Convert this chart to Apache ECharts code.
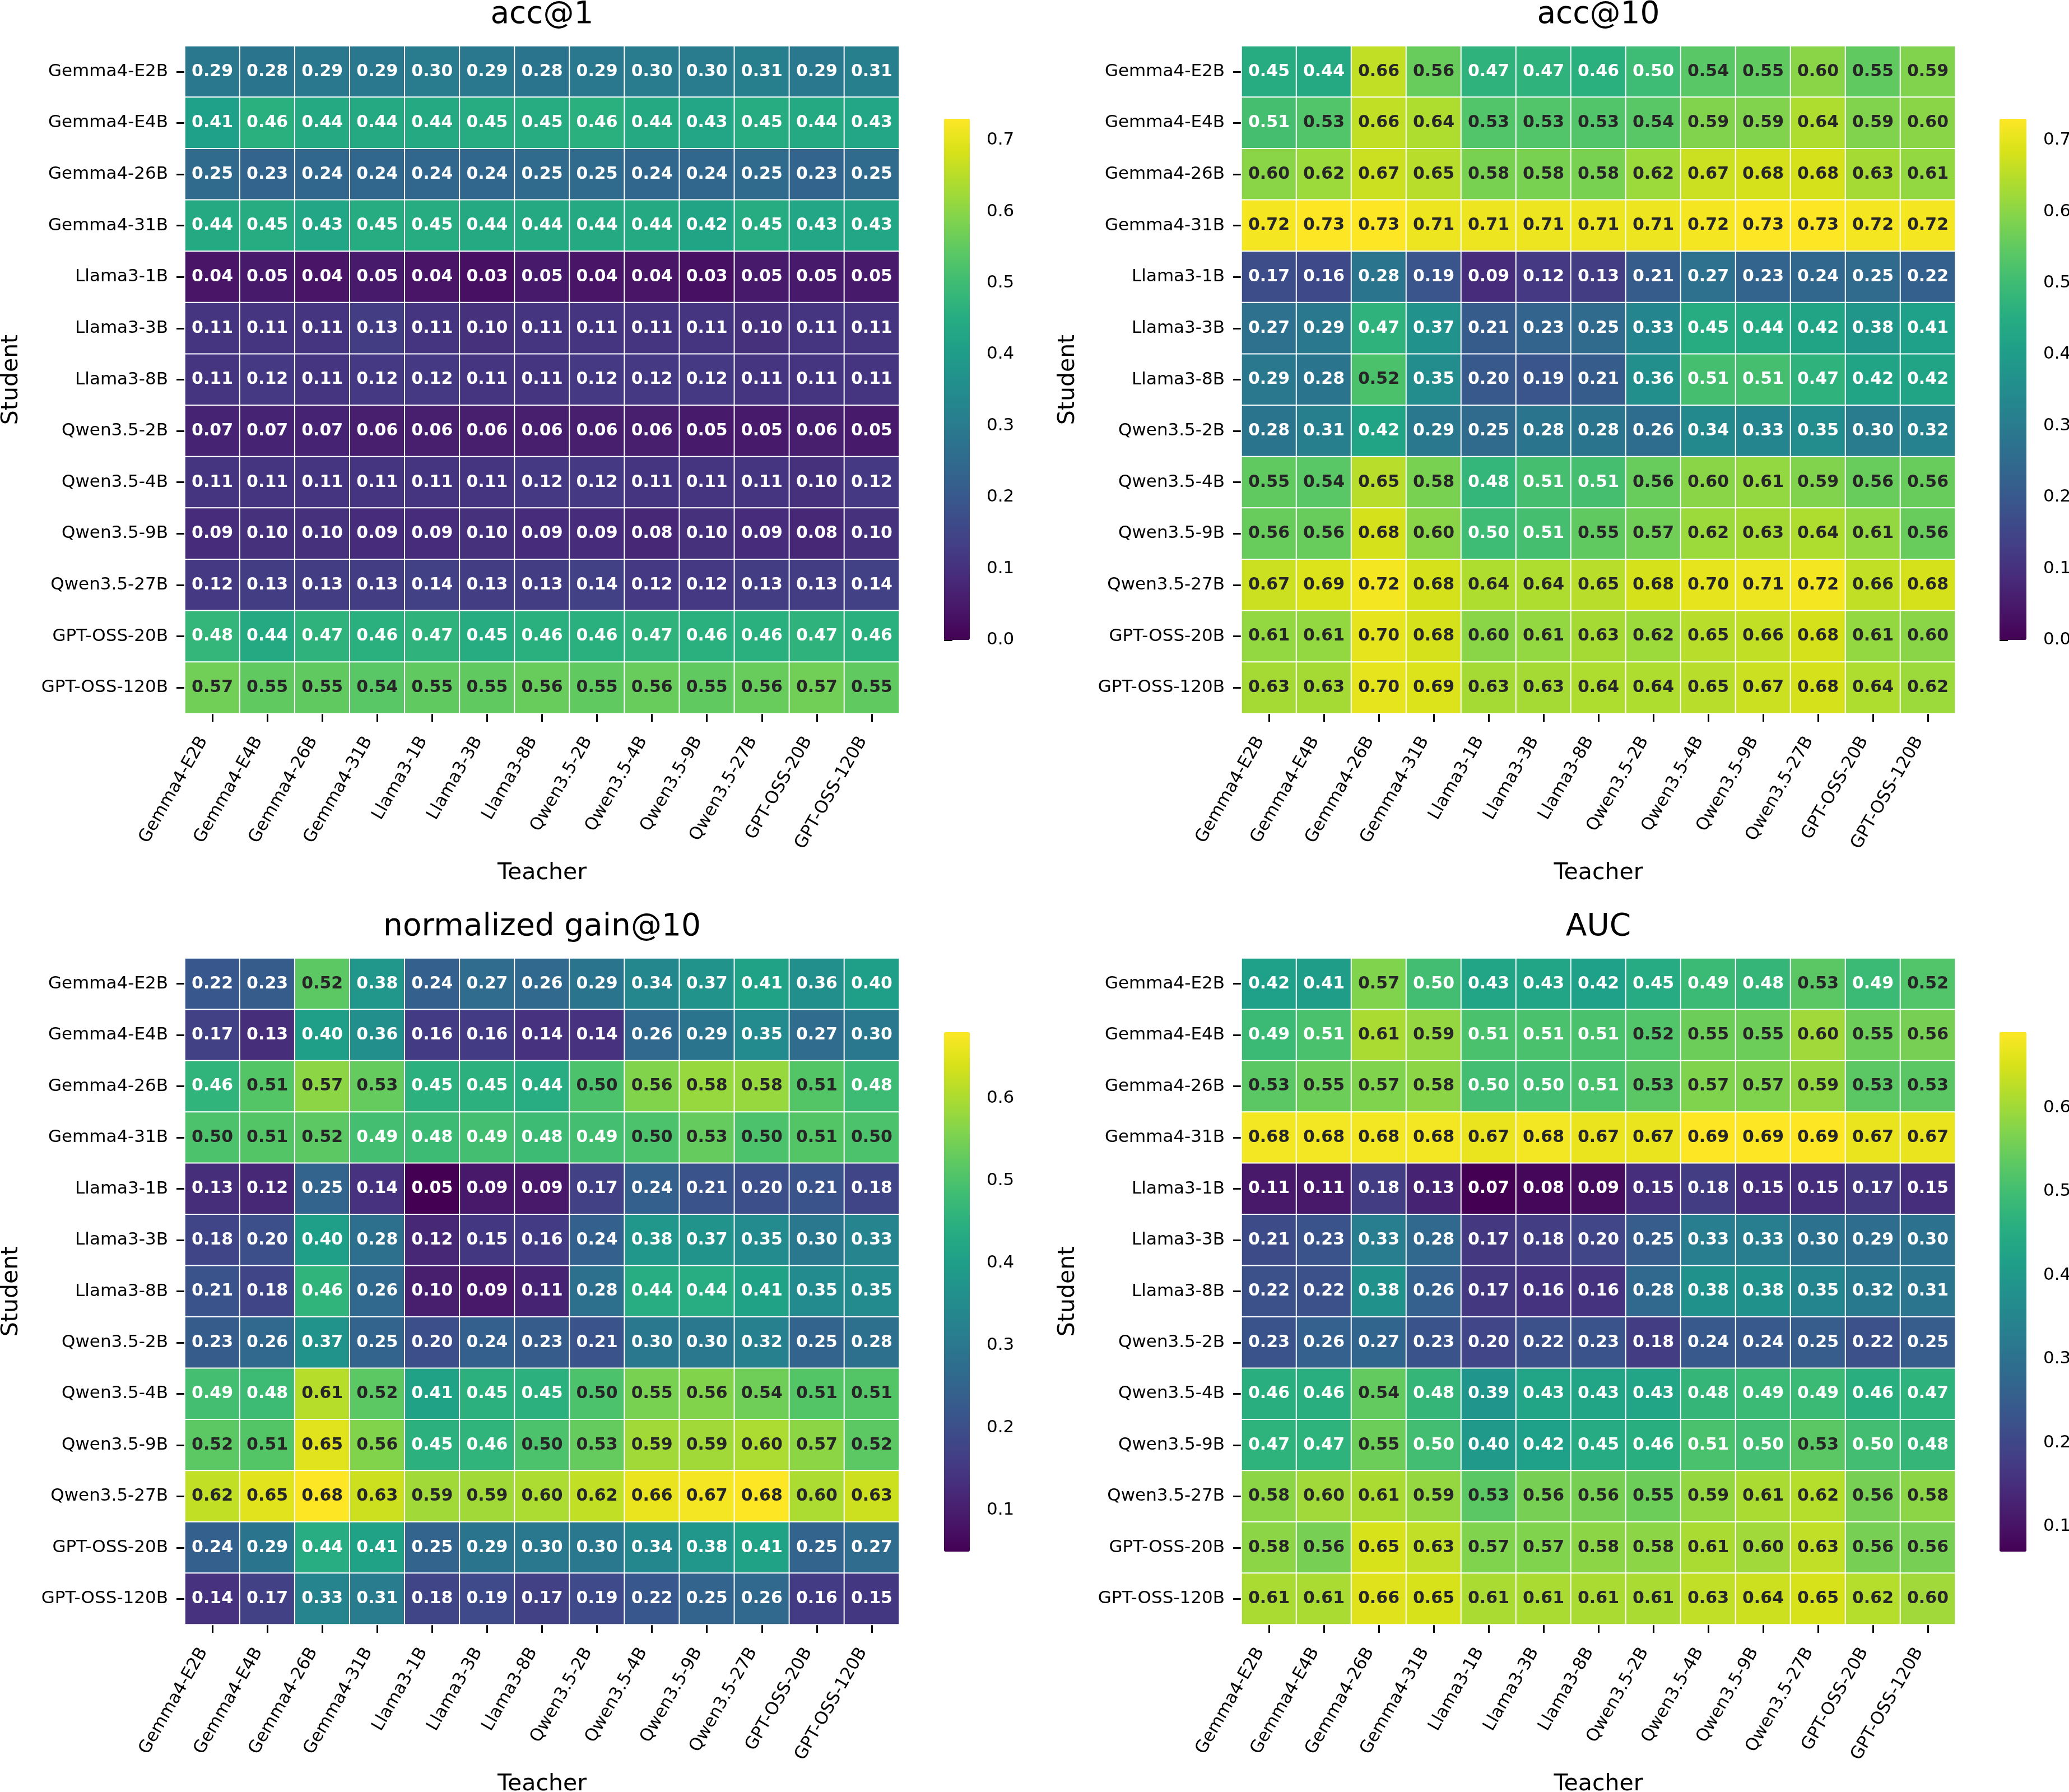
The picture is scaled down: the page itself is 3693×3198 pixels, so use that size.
<!DOCTYPE html>
<html>
<head>
<meta charset="utf-8">
<style>
html, body { margin: 0; padding: 0; background: #fff; }
#chart { width: 3693px; height: 3198px; }
</style>
<script src="https://cdn.jsdelivr.net/npm/echarts@6/dist/echarts.min.js"></script>
</head>
<body>
<div id="chart"></div>
<script>
// teacher / student model names (same order on both axes)
var models = ['Gemma4-E2B', 'Gemma4-E4B', 'Gemma4-26B', 'Gemma4-31B', 'Llama3-1B', 'Llama3-3B', 'Llama3-8B',
  'Qwen3.5-2B', 'Qwen3.5-4B', 'Qwen3.5-9B', 'Qwen3.5-27B', 'GPT-OSS-20B', 'GPT-OSS-120B'];

// rows = student, columns = teacher
var acc1 = [
  [0.29, 0.28, 0.29, 0.29, 0.30, 0.29, 0.28, 0.29, 0.30, 0.30, 0.31, 0.29, 0.31],
  [0.41, 0.46, 0.44, 0.44, 0.44, 0.45, 0.45, 0.46, 0.44, 0.43, 0.45, 0.44, 0.43],
  [0.25, 0.23, 0.24, 0.24, 0.24, 0.24, 0.25, 0.25, 0.24, 0.24, 0.25, 0.23, 0.25],
  [0.44, 0.45, 0.43, 0.45, 0.45, 0.44, 0.44, 0.44, 0.44, 0.42, 0.45, 0.43, 0.43],
  [0.04, 0.05, 0.04, 0.05, 0.04, 0.03, 0.05, 0.04, 0.04, 0.03, 0.05, 0.05, 0.05],
  [0.11, 0.11, 0.11, 0.13, 0.11, 0.10, 0.11, 0.11, 0.11, 0.11, 0.10, 0.11, 0.11],
  [0.11, 0.12, 0.11, 0.12, 0.12, 0.11, 0.11, 0.12, 0.12, 0.12, 0.11, 0.11, 0.11],
  [0.07, 0.07, 0.07, 0.06, 0.06, 0.06, 0.06, 0.06, 0.06, 0.05, 0.05, 0.06, 0.05],
  [0.11, 0.11, 0.11, 0.11, 0.11, 0.11, 0.12, 0.12, 0.11, 0.11, 0.11, 0.10, 0.12],
  [0.09, 0.10, 0.10, 0.09, 0.09, 0.10, 0.09, 0.09, 0.08, 0.10, 0.09, 0.08, 0.10],
  [0.12, 0.13, 0.13, 0.13, 0.14, 0.13, 0.13, 0.14, 0.12, 0.12, 0.13, 0.13, 0.14],
  [0.48, 0.44, 0.47, 0.46, 0.47, 0.45, 0.46, 0.46, 0.47, 0.46, 0.46, 0.47, 0.46],
  [0.57, 0.55, 0.55, 0.54, 0.55, 0.55, 0.56, 0.55, 0.56, 0.55, 0.56, 0.57, 0.55]
];

var acc10 = [
  [0.45, 0.44, 0.66, 0.56, 0.47, 0.47, 0.46, 0.50, 0.54, 0.55, 0.60, 0.55, 0.59],
  [0.51, 0.53, 0.66, 0.64, 0.53, 0.53, 0.53, 0.54, 0.59, 0.59, 0.64, 0.59, 0.60],
  [0.60, 0.62, 0.67, 0.65, 0.58, 0.58, 0.58, 0.62, 0.67, 0.68, 0.68, 0.63, 0.61],
  [0.72, 0.73, 0.73, 0.71, 0.71, 0.71, 0.71, 0.71, 0.72, 0.73, 0.73, 0.72, 0.72],
  [0.17, 0.16, 0.28, 0.19, 0.09, 0.12, 0.13, 0.21, 0.27, 0.23, 0.24, 0.25, 0.22],
  [0.27, 0.29, 0.47, 0.37, 0.21, 0.23, 0.25, 0.33, 0.45, 0.44, 0.42, 0.38, 0.41],
  [0.29, 0.28, 0.52, 0.35, 0.20, 0.19, 0.21, 0.36, 0.51, 0.51, 0.47, 0.42, 0.42],
  [0.28, 0.31, 0.42, 0.29, 0.25, 0.28, 0.28, 0.26, 0.34, 0.33, 0.35, 0.30, 0.32],
  [0.55, 0.54, 0.65, 0.58, 0.48, 0.51, 0.51, 0.56, 0.60, 0.61, 0.59, 0.56, 0.56],
  [0.56, 0.56, 0.68, 0.60, 0.50, 0.51, 0.55, 0.57, 0.62, 0.63, 0.64, 0.61, 0.56],
  [0.67, 0.69, 0.72, 0.68, 0.64, 0.64, 0.65, 0.68, 0.70, 0.71, 0.72, 0.66, 0.68],
  [0.61, 0.61, 0.70, 0.68, 0.60, 0.61, 0.63, 0.62, 0.65, 0.66, 0.68, 0.61, 0.60],
  [0.63, 0.63, 0.70, 0.69, 0.63, 0.63, 0.64, 0.64, 0.65, 0.67, 0.68, 0.64, 0.62]
];

var gain10 = [
  [0.22, 0.23, 0.52, 0.38, 0.24, 0.27, 0.26, 0.29, 0.34, 0.37, 0.41, 0.36, 0.40],
  [0.17, 0.13, 0.40, 0.36, 0.16, 0.16, 0.14, 0.14, 0.26, 0.29, 0.35, 0.27, 0.30],
  [0.46, 0.51, 0.57, 0.53, 0.45, 0.45, 0.44, 0.50, 0.56, 0.58, 0.58, 0.51, 0.48],
  [0.50, 0.51, 0.52, 0.49, 0.48, 0.49, 0.48, 0.49, 0.50, 0.53, 0.50, 0.51, 0.50],
  [0.13, 0.12, 0.25, 0.14, 0.05, 0.09, 0.09, 0.17, 0.24, 0.21, 0.20, 0.21, 0.18],
  [0.18, 0.20, 0.40, 0.28, 0.12, 0.15, 0.16, 0.24, 0.38, 0.37, 0.35, 0.30, 0.33],
  [0.21, 0.18, 0.46, 0.26, 0.10, 0.09, 0.11, 0.28, 0.44, 0.44, 0.41, 0.35, 0.35],
  [0.23, 0.26, 0.37, 0.25, 0.20, 0.24, 0.23, 0.21, 0.30, 0.30, 0.32, 0.25, 0.28],
  [0.49, 0.48, 0.61, 0.52, 0.41, 0.45, 0.45, 0.50, 0.55, 0.56, 0.54, 0.51, 0.51],
  [0.52, 0.51, 0.65, 0.56, 0.45, 0.46, 0.50, 0.53, 0.59, 0.59, 0.60, 0.57, 0.52],
  [0.62, 0.65, 0.68, 0.63, 0.59, 0.59, 0.60, 0.62, 0.66, 0.67, 0.68, 0.60, 0.63],
  [0.24, 0.29, 0.44, 0.41, 0.25, 0.29, 0.30, 0.30, 0.34, 0.38, 0.41, 0.25, 0.27],
  [0.14, 0.17, 0.33, 0.31, 0.18, 0.19, 0.17, 0.19, 0.22, 0.25, 0.26, 0.16, 0.15]
];

var auc = [
  [0.42, 0.41, 0.57, 0.50, 0.43, 0.43, 0.42, 0.45, 0.49, 0.48, 0.53, 0.49, 0.52],
  [0.49, 0.51, 0.61, 0.59, 0.51, 0.51, 0.51, 0.52, 0.55, 0.55, 0.60, 0.55, 0.56],
  [0.53, 0.55, 0.57, 0.58, 0.50, 0.50, 0.51, 0.53, 0.57, 0.57, 0.59, 0.53, 0.53],
  [0.68, 0.68, 0.68, 0.68, 0.67, 0.68, 0.67, 0.67, 0.69, 0.69, 0.69, 0.67, 0.67],
  [0.11, 0.11, 0.18, 0.13, 0.07, 0.08, 0.09, 0.15, 0.18, 0.15, 0.15, 0.17, 0.15],
  [0.21, 0.23, 0.33, 0.28, 0.17, 0.18, 0.20, 0.25, 0.33, 0.33, 0.30, 0.29, 0.30],
  [0.22, 0.22, 0.38, 0.26, 0.17, 0.16, 0.16, 0.28, 0.38, 0.38, 0.35, 0.32, 0.31],
  [0.23, 0.26, 0.27, 0.23, 0.20, 0.22, 0.23, 0.18, 0.24, 0.24, 0.25, 0.22, 0.25],
  [0.46, 0.46, 0.54, 0.48, 0.39, 0.43, 0.43, 0.43, 0.48, 0.49, 0.49, 0.46, 0.47],
  [0.47, 0.47, 0.55, 0.50, 0.40, 0.42, 0.45, 0.46, 0.51, 0.50, 0.53, 0.50, 0.48],
  [0.58, 0.60, 0.61, 0.59, 0.53, 0.56, 0.56, 0.55, 0.59, 0.61, 0.62, 0.56, 0.58],
  [0.58, 0.56, 0.65, 0.63, 0.57, 0.57, 0.58, 0.58, 0.61, 0.60, 0.63, 0.56, 0.56],
  [0.61, 0.61, 0.66, 0.65, 0.61, 0.61, 0.61, 0.61, 0.63, 0.64, 0.65, 0.62, 0.60]
];

// colorbar tick labels
var accTicks = [0.0, 0.1, 0.2, 0.3, 0.4, 0.5, 0.6, 0.7];
var gainTicks = [0.1, 0.2, 0.3, 0.4, 0.5, 0.6];
var aucTicks = [0.1, 0.2, 0.3, 0.4, 0.5, 0.6];

var FONT = 'DejaVu Sans';

var viridis = ['#440154', '#48186a', '#472d7b', '#424086', '#3b528b', '#33638d', '#2c728e', '#26828e',
  '#21918c', '#1fa088', '#28ae80', '#3fbc73', '#5ec962', '#84d44b', '#addc30', '#d8e219', '#fde725'];

function flat(m) { return [].concat.apply([], m); }
function hexRgb(h) { return [parseInt(h.substr(1, 2), 16), parseInt(h.substr(3, 2), 16), parseInt(h.substr(5, 2), 16)]; }

// same linear interpolation as the visualMap, used to pick a readable text colour
function cmap(t) {
  t = Math.max(0, Math.min(1, t));
  var pos = t * (viridis.length - 1);
  var i = Math.min(Math.floor(pos), viridis.length - 2);
  var f = pos - i;
  var a = hexRgb(viridis[i]), b = hexRgb(viridis[i + 1]);
  return [0, 1, 2].map(function (k) { return a[k] + (b[k] - a[k]) * f; });
}
function lum(rgb) {
  var c = rgb.map(function (v) {
    v = v / 255;
    return v <= 0.03928 ? v / 12.92 : Math.pow((v + 0.055) / 1.055, 2.4);
  });
  return 0.2126 * c[0] + 0.7152 * c[1] + 0.0722 * c[2];
}

var accMax = Math.max.apply(null, flat(acc1).concat(flat(acc10)));

var panels = [
  { title: 'acc@1', data: acc1, min: 0, max: accMax, ticks: accTicks,
    left: 330, top: 82, w: 1275, h: 1191, cbLeft: 1685, cbW: 46, cbTop: 212, cbH: 930 },
  { title: 'acc@10', data: acc10, min: 0, max: accMax, ticks: accTicks,
    left: 2216, top: 82, w: 1274, h: 1191, cbLeft: 3569, cbW: 48, cbTop: 212, cbH: 930 },
  { title: 'normalized gain@10', data: gain10, min: Math.min.apply(null, flat(gain10)), max: Math.max.apply(null, flat(gain10)), ticks: gainTicks,
    left: 330, top: 1710, w: 1275, h: 1189, cbLeft: 1685, cbW: 46, cbTop: 1842, cbH: 927 },
  { title: 'AUC', data: auc, min: Math.min.apply(null, flat(auc)), max: Math.max.apply(null, flat(auc)), ticks: aucTicks,
    left: 2216, top: 1710, w: 1274, h: 1189, cbLeft: 3569, cbW: 48, cbTop: 1842, cbH: 927 }
];

var option = {
  animation: false,
  backgroundColor: '#fff',
  grid: [], xAxis: [], yAxis: [], series: [], visualMap: [], graphic: []
};

var tickStyle = { color: '#000', width: 3 };

panels.forEach(function (p, i) {
  // heatmap grid
  option.grid.push({ left: p.left, top: p.top, width: p.w, height: p.h, outerBoundsMode: 'none' });
  option.xAxis.push({
    type: 'category', gridIndex: i, data: models,
    name: 'Teacher', nameLocation: 'middle', nameGap: 265,
    nameTextStyle: { fontSize: 41, fontFamily: FONT, color: '#000' },
    axisLine: { show: false },
    axisTick: { show: true, alignWithLabel: true, length: 15, lineStyle: tickStyle },
    axisLabel: { interval: 0, rotate: 60, margin: 53, verticalAlign: 'bottom', lineHeight: 36,
      fontSize: 31, fontFamily: FONT, color: '#000' },
    splitLine: { show: false }
  });
  option.yAxis.push({
    type: 'category', gridIndex: i, data: models, inverse: true,
    name: 'Student', nameLocation: 'middle', nameGap: 289,
    nameTextStyle: { fontSize: 41, fontFamily: FONT, color: '#000' },
    axisLine: { show: false },
    axisTick: { show: true, alignWithLabel: true, length: 15, lineStyle: tickStyle },
    axisLabel: { interval: 0, margin: 30, fontSize: 31, fontFamily: FONT, color: '#000' },
    splitLine: { show: false }
  });

  var cells = [];
  p.data.forEach(function (row, r) {
    row.forEach(function (v, c) {
      var dark = lum(cmap((v - p.min) / (p.max - p.min))) < 0.408;
      cells.push({ value: [c, r, v], label: { color: dark ? '#ffffff' : '#262626' } });
    });
  });

  option.series.push({
    type: 'heatmap', xAxisIndex: i, yAxisIndex: i, data: cells,
    itemStyle: { borderColor: '#ffffff', borderWidth: 2 },
    label: { show: true, fontSize: 30, fontWeight: 'bold', fontFamily: FONT,
      formatter: function (d) { return d.value[2].toFixed(2); } },
    emphasis: { disabled: true }
  });

  option.visualMap.push({
    type: 'continuous', seriesIndex: i, dimension: 2,
    min: p.min, max: p.max, calculable: false, hoverLink: false,
    orient: 'vertical', left: p.cbLeft, top: p.cbTop,
    itemWidth: p.cbW, itemHeight: p.cbH, padding: 0, text: null,
    inRange: { color: viridis }
  });

  // title
  option.graphic.push({
    type: 'text', x: p.left + p.w / 2, y: p.top - 55, z: 100,
    style: { text: p.title, fontSize: 55, fontFamily: FONT, fill: '#000',
      textAlign: 'center', textVerticalAlign: 'middle', align: 'center', verticalAlign: 'middle' }
  });
});

// colorbar axes, laid over the visualMap bars
panels.forEach(function (p, i) {
  var g = panels.length + i;
  option.grid.push({ left: p.cbLeft, top: p.cbTop, width: p.cbW, height: p.cbH, outerBoundsMode: 'none' });
  option.xAxis.push({ type: 'value', gridIndex: g, show: false });
  option.yAxis.push({
    type: 'value', gridIndex: g, position: 'right', min: p.min, max: p.max,
    axisLine: { show: false }, splitLine: { show: false },
    axisTick: { show: true, length: 15, lineStyle: tickStyle, customValues: p.ticks },
    axisLabel: { customValues: p.ticks, margin: 30, fontSize: 31, fontFamily: FONT, color: '#000',
      formatter: function (v) { return v.toFixed(1); } }
  });
});

var chart = echarts.init(document.getElementById('chart'));
chart.setOption(option);
</script>
</body>
</html>
